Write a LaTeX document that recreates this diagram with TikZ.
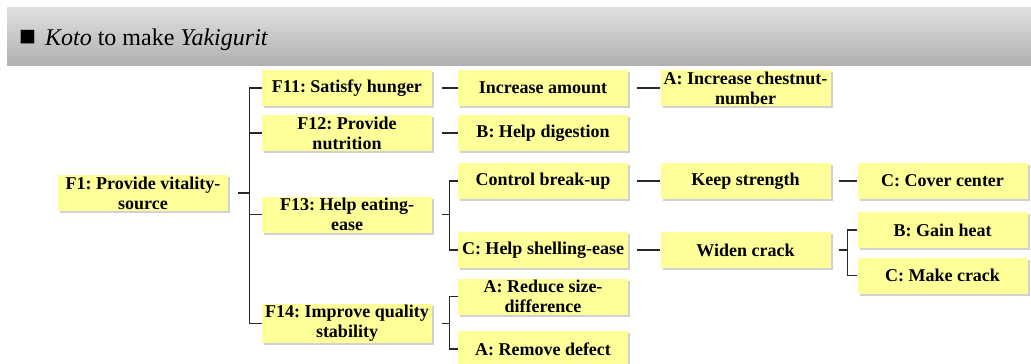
\documentclass[tikz,border=0pt]{standalone}
\usepackage{fontspec}
\setmainfont{Liberation Serif}
\frenchspacing
\usetikzlibrary{shadows}
\definecolor{notefill}{RGB}{255,255,153}
\definecolor{bandtop}{RGB}{224,224,224}
\definecolor{bandbottom}{RGB}{176,176,176}
\definecolor{linkgray}{RGB}{40,40,40}
\tikzset{
  note/.style={fill=notefill, minimum width=170pt, minimum height=36pt,
    align=center, inner sep=1pt,
    font=\bfseries\fontsize{18}{20}\selectfont,
    drop shadow={shadow xshift=2pt, shadow yshift=-2pt, opacity=0.3, fill=black!60}},
  link/.style={draw=linkgray, line width=1.2pt}
}
\begin{document}
\begin{tikzpicture}[x=1pt,y=-1pt]
\useasboundingbox (0,0) rectangle (1031,364);

% title band
\shade[top color=bandtop, bottom color=bandbottom] (7,7) rectangle (1031,65);
\node[anchor=base west, inner sep=0pt, font=\fontsize{24}{28}\selectfont] (title) at (19,45)
  {{\fontsize{28}{28}\selectfont ■}\hspace{9pt}\textit{Koto} to make \textit{Yakigurit}};

% level 1
\node[note] (f1)  at (143,193) {F1: Provide vitality-\\source};
% level 2
\node[note] (f11) at (347,88)    {F11: Satisfy hunger};
\node[note] (f12) at (347,133)   {F12: Provide\\nutrition};
\node[note] (f13) at (347,214.5) {F13: Help eating-\\ease};
\node[note] (f14) at (347,323.5) {F14: Improve quality\\stability};
% level 3
\node[note] (ia)  at (543,88)    {Increase amount};
\node[note] (bhd) at (543,133)   {B: Help digestion};
\node[note] (cbu) at (543,181)   {Control break-up};
\node[note] (chs) at (543,250)   {C: Help shelling-ease};
\node[note] (ars) at (543,296.5) {A: Reduce size-\\difference};
\node[note] (ard) at (543,349)   {A: Remove defect};
% level 4
\node[note] (aic) at (745.5,88)  {A: Increase chestnut-\\number};
\node[note] (ks)  at (745.5,181) {Keep strength};
\node[note] (wc)  at (745.5,250) {Widen crack};
% level 5
\node[note] (ccc) at (942.5,181)   {C: Cover center};
\node[note] (cgh) at (942.5,230)   {B: Gain heat};
\node[note] (cmc) at (942.5,275.5) {C: Make crack};

% bracket from F1
\coordinate (j1) at ([xshift=21pt]f1.east);
\draw[link] ([xshift=10pt]f1.east) -- (j1);
\draw[link] (j1 |- f11.west) -- (j1 |- f14.west);
\foreach \c in {f11,f12,f13,f14} \draw[link] (j1 |- \c.west) -- (\c.west);

% bracket from F13
\coordinate (j2) at ([xshift=17pt]f13.east);
\draw[link] ([xshift=10pt]f13.east) -- (j2);
\draw[link] (j2 |- cbu.west) -- (cbu.west);
\draw[link] (j2 |- cbu.west) -- (j2 |- chs.west) -- (chs.west);

% bracket from F14
\coordinate (j3) at ([xshift=17pt]f14.east);
\draw[link] ([xshift=10pt]f14.east) -- (j3);
\draw[link] (ars.west) -- (j3 |- ars.west) -- (j3 |- ard.west) -- (ard.west);

% bracket from Widen crack
\coordinate (j4) at ([xshift=17pt]wc.east);
\draw[link] ([xshift=8pt]wc.east) -- (j4);
\draw[link] (cgh.west) -- (j4 |- cgh.west) -- (j4 |- cmc.west) -- (cmc.west);

% single links
\draw[link] ([xshift=10pt]f11.east) -- (ia.west);
\draw[link] ([xshift=10pt]f12.east) -- (bhd.west);
\draw[link] ([xshift=9pt]ia.east) -- (aic.west);
\draw[link] ([xshift=9pt]cbu.east) -- (ks.west);
\draw[link] ([xshift=9pt]chs.east) -- (wc.west);
\draw[link] ([xshift=8pt]ks.east) -- (ccc.west);
\end{tikzpicture}
\end{document}
